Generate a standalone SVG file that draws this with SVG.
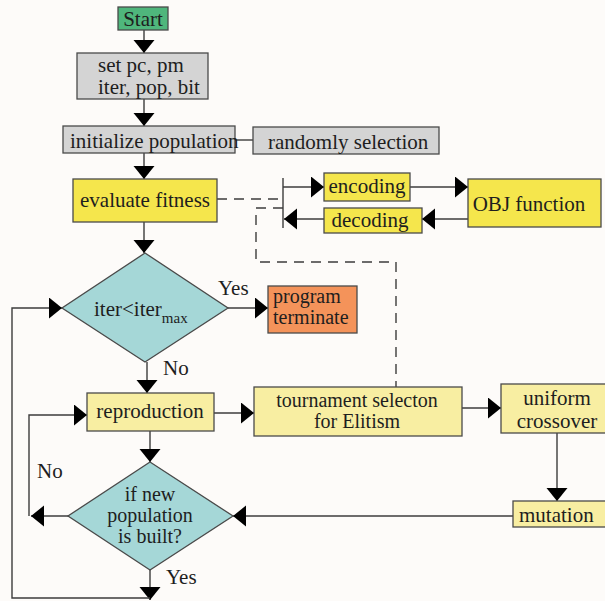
<svg xmlns="http://www.w3.org/2000/svg" width="605" height="601" viewBox="0 0 605 601">
  <style>
    .box { stroke: #4a4a4a; stroke-width: 1.3; }
    .gray { fill: #d4d4d4; }
    .green { fill: #4fb67c; }
    .yellow { fill: #f5e64c; }
    .pale { fill: #f8eea2; }
    .cyan { fill: #a5d7d7; }
    .orange { fill: #f4935a; }
    .lbl { font-family: 'Liberation Serif', 'Times New Roman', 'DejaVu Serif', serif; font-size: 21px; fill: #1e1e1e; }
    .sm { font-size: 20px; }
    .mid { text-anchor: middle; }
    .conn { fill: none; stroke: #3c3c3c; stroke-width: 1.4; }
    .dash { stroke-dasharray: 10 7; }
  </style>
  <defs>
    <marker id="arrow" markerUnits="userSpaceOnUse" markerWidth="14" markerHeight="22" refX="13" refY="10.5" orient="auto">
      <path d="M0,0 L13,10.5 L0,21 z" fill="#000"/>
    </marker>
  </defs>

  <rect width="605" height="601" fill="#fdfbf9"/>

  <!-- connectors -->
  <g id="connectors">
    <path class="conn" d="M144,30 V53" marker-end="url(#arrow)"/>
    <path class="conn" d="M144,99 V126" marker-end="url(#arrow)"/>
    <path class="conn" d="M235,140 H253"/>
    <path class="conn" d="M144,153 V179" marker-end="url(#arrow)"/>
    <path class="conn" d="M144,222 V253" marker-end="url(#arrow)"/>
    <path class="conn dash" d="M217,199 H283"/>
    <path class="conn" d="M283,178 V228"/>
    <path class="conn" d="M283,187 H324" marker-end="url(#arrow)"/>
    <path class="conn" d="M410,187 H468" marker-end="url(#arrow)"/>
    <path class="conn" d="M468,219 H422" marker-end="url(#arrow)"/>
    <path class="conn" d="M324,219 H284" marker-end="url(#arrow)"/>
    <path class="conn dash" d="M283,208 H256 V262 H396 V387"/>
    <path class="conn" d="M228,308 H268" marker-end="url(#arrow)"/>
    <path class="conn" d="M147,362 V393" marker-end="url(#arrow)"/>
    <path class="conn" d="M214,413 H254" marker-end="url(#arrow)"/>
    <path class="conn" d="M462,408 H501" marker-end="url(#arrow)"/>
    <path class="conn" d="M557,433 V501" marker-end="url(#arrow)"/>
    <path class="conn" d="M513,516 H233" marker-end="url(#arrow)"/>
    <path class="conn" d="M150,431 V462" marker-end="url(#arrow)"/>
    <path class="conn" d="M68,516 H31" marker-end="url(#arrow)"/>
    <path class="conn" d="M29,516 V415 H87" marker-end="url(#arrow)"/>
    <path class="conn" d="M150,570 V600" marker-end="url(#arrow)"/>
    <path class="conn" d="M150,598 H12 V308 H62" marker-end="url(#arrow)"/>
  </g>

  <!-- nodes -->
  <g id="start">
    <rect class="box green" x="118" y="7" width="50" height="23"/>
    <text class="lbl mid" x="143" y="26">Start</text>
  </g>
  <g id="set-params">
    <rect class="box gray" x="77" y="53" width="131" height="46"/>
    <text class="lbl" x="98" y="72">set pc, pm</text>
    <text class="lbl" x="98" y="94">iter, pop, bit</text>
  </g>
  <g id="init-pop">
    <rect class="box gray" x="63" y="126" width="172" height="27"/>
    <text class="lbl" x="70" y="148">initialize population</text>
  </g>
  <g id="random-select">
    <rect class="box gray" x="253" y="127" width="186" height="27"/>
    <text class="lbl" x="268" y="149">randomly selection</text>
  </g>
  <g id="evaluate">
    <rect class="box yellow" x="73" y="179" width="144" height="43"/>
    <text class="lbl mid" x="145" y="207">evaluate fitness</text>
  </g>
  <g id="encoding">
    <rect class="box yellow" x="324" y="173" width="86" height="28"/>
    <text class="lbl mid" x="367" y="193">encoding</text>
  </g>
  <g id="decoding">
    <rect class="box yellow" x="324" y="208" width="98" height="25"/>
    <text class="lbl mid" x="370" y="227">decoding</text>
  </g>
  <g id="obj-function">
    <rect class="box yellow" x="468" y="179" width="133" height="48"/>
    <text class="lbl mid" x="529" y="211">OBJ function</text>
  </g>
  <g id="iter-check">
    <polygon class="box cyan" points="145,253 228,308 145,362 62,308"/>
    <text class="lbl" x="94" y="316" font-size="22">iter&lt;iter<tspan font-size="15" dy="7">max</tspan></text>
    <text class="lbl" x="218" y="295">Yes</text>
    <text class="lbl" x="163" y="375">No</text>
  </g>
  <g id="terminate">
    <rect class="box orange" x="268" y="286" width="89" height="47"/>
    <text class="lbl sm" x="273" y="303">program</text>
    <text class="lbl sm" x="273" y="324">terminate</text>
  </g>
  <g id="reproduction">
    <rect class="box pale" x="87" y="393" width="127" height="38"/>
    <text class="lbl mid" x="150" y="418">reproduction</text>
  </g>
  <g id="tournament">
    <rect class="box pale" x="254" y="387" width="208" height="49"/>
    <text class="lbl sm mid" x="357" y="407">tournament selecton</text>
    <text class="lbl sm mid" x="357" y="428">for Elitism</text>
  </g>
  <g id="crossover">
    <rect class="box pale" x="501" y="384" width="106" height="49"/>
    <text class="lbl mid" x="557" y="405">uniform</text>
    <text class="lbl mid" x="557" y="428">crossover</text>
  </g>
  <g id="mutation">
    <rect class="box pale" x="513" y="501" width="94" height="26"/>
    <text class="lbl" x="519" y="522">mutation</text>
  </g>
  <g id="pop-check">
    <polygon class="box cyan" points="150,462 233,516 150,570 68,516"/>
    <text class="lbl sm mid" x="150" y="501">if new</text>
    <text class="lbl sm mid" x="150" y="522">population</text>
    <text class="lbl sm mid" x="150" y="543">is built?</text>
    <text class="lbl" x="37" y="478">No</text>
    <text class="lbl" x="166" y="584">Yes</text>
  </g>
</svg>
